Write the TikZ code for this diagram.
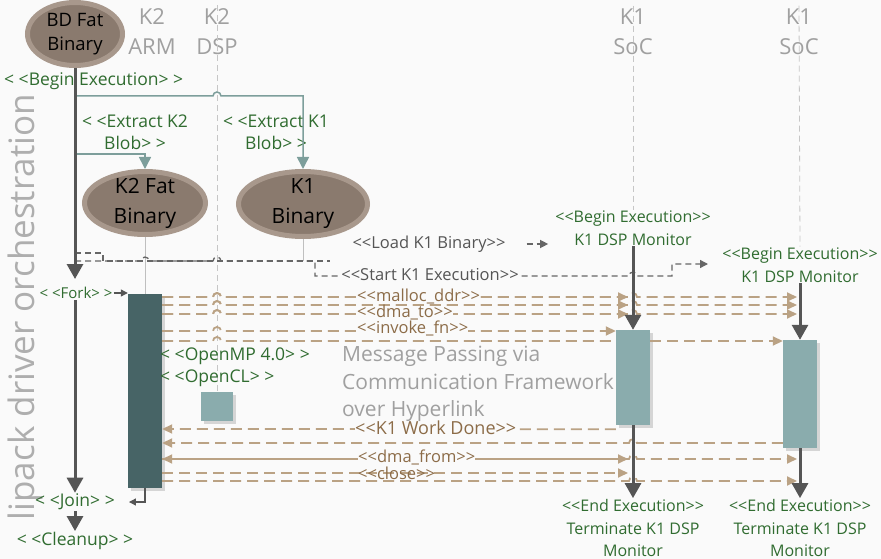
\documentclass[tikz,border=0pt]{standalone}
\usepackage{fontspec}
\setmainfont{Open Sans}
\usetikzlibrary{arrows.meta, positioning, shapes.geometric, shadows}

\definecolor{bgcol}{RGB}{250,250,250}
\definecolor{txtgreen}{RGB}{48,108,48}
\definecolor{txtbrown}{RGB}{140,108,72}
\definecolor{callcol}{RGB}{186,162,132}
\definecolor{flowcol}{RGB}{85,85,85}
\definecolor{hdrcol}{RGB}{160,160,160}
\definecolor{extcol}{RGB}{125,158,155}
\definecolor{armcol}{RGB}{71,100,102}
\definecolor{soccol}{RGB}{138,172,173}
\definecolor{blobrim}{RGB}{168,152,140}
\definecolor{blobcol}{RGB}{138,122,110}

% keep << and >> from turning into guillemets
\newcommand{\dlt}{<\kern0pt<}
\newcommand{\dgt}{>\kern0pt>}

\begin{document}
\begin{tikzpicture}[
    x=1pt, y=1pt,
    blob/.style={ellipse, draw=blobrim, line width=5pt, fill=blobcol, inner sep=-8pt, align=center, text=black},
    header/.style={align=center, text=hdrcol, font=\fontsize{22}{30}\selectfont},
    grn/.style={text=txtgreen, align=center, inner sep=1pt, font=\fontsize{17.5}{22}\selectfont},
    mon/.style={text=txtgreen, align=center, inner sep=1pt, font=\fontsize{16}{22.5}\selectfont},
    msg/.style={text=txtbrown, fill=bgcol, inner sep=0pt, text height=11pt, text depth=3pt, anchor=west, font=\fontsize{16.5}{18}\selectfont},
    cmd/.style={text=flowcol, fill=bgcol, inner sep=1pt, font=\fontsize{16.5}{20}\selectfont},
    actbox/.style={rectangle, draw=none, inner sep=0pt, drop shadow={opacity=0.3, shadow xshift=3pt, shadow yshift=-3pt}},
    lifeline/.style={draw=gray!45, dash pattern=on 6pt off 4pt, line width=0.8pt},
    thinline/.style={draw=gray!50, line width=0.8pt},
    flow/.style={draw=flowcol, line width=3pt, -{Triangle[width=16pt,length=15pt]}},
    smallflow/.style={draw=flowcol, line width=1.2pt, -{Triangle[width=7pt,length=7pt]}},
    extract/.style={draw=extcol, line width=1.5pt, -{Triangle[width=12pt,length=12pt]}},
    cmdline/.style={draw=flowcol!90, line width=1.3pt, dash pattern=on 6pt off 4pt},
    callx/.style={draw=callcol, line width=1.8pt, dash pattern=on 11pt off 6pt},
    call/.style={callx, -{Triangle[width=9pt,length=10pt]}},
    callboth/.style={callx, {Triangle[width=9pt,length=10pt]}-{Triangle[width=9pt,length=10pt]}}
]

% canvas
\fill[bgcol] (0,0) rectangle (881,-559);
\useasboundingbox (0,0) rectangle (881,-559);

\node[rotate=90, text=hdrcol!85, font=\fontsize{35}{40}\selectfont] (side) at (25,-307) {lipack driver orchestration};

% ============= HEADS =============
\node[blob, minimum width=95pt, minimum height=63pt, font=\fontsize{18.5}{24}\selectfont] (bd) at (75,-34) {BD Fat\\Binary};
\node[header] (k2arm) at (152,-32) {K2\\ARM};
\node[header] (k2dsp) at (217,-32) {K2\\DSP};
\node[header] (soc1) at (633,-32) {K1\\SoC};
\node[header] (soc2) at (799,-32) {K1\\SoC};

% ============= BLOBS =============
\node[grn, anchor=west] (begx) at (3,-81) {< <Begin Execution> >};
\node[grn] (ext2) at (135,-132) {< <Extract K2\\Blob> >};
\node[grn] (ext1) at (276,-132) {< <Extract K1\\Blob> >};

\node[blob, minimum width=121pt, minimum height=63pt, font=\fontsize{21}{30}\selectfont] (k2bin) at (145,-203) {K2 Fat\\Binary};
\node[blob, minimum width=129pt, minimum height=65pt, font=\fontsize{21}{30}\selectfont] (k1bin) at (303,-204) {K1\\Binary};

\coordinate (bx) at (bd.south |- 0,-96);
\coordinate (ex2) at (bd.south |- 0,-154);
\draw[extract] (bx) -- (213,-96) arc (180:0:4) -- (k1bin.north |- bx) -- (k1bin.north);
\draw[extract] (ex2) -| (k2bin.north);

% ============= ACTIVATIONS =============
\node[actbox, fill=armcol, minimum width=34pt, minimum height=194pt] (arm) at (145,-391) {};
\node[actbox, fill=soccol, minimum width=32pt, minimum height=29pt] (oclbox) at (217,-406.5) {};
\node[actbox, fill=soccol, minimum width=34pt, minimum height=95pt] (act1) at (633,-377.5) {};
\node[actbox, fill=soccol, minimum width=34pt, minimum height=108pt] (act2) at (800,-394) {};

\node[mon] (beginA) at (633,-228) {\dlt Begin Execution\dgt\\K1 DSP Monitor};
\node[mon] (beginB) at (800,-265) {\dlt Begin Execution\dgt\\K1 DSP Monitor};
\node[mon] (endA) at (633,-528) {\dlt End Execution\dgt\\Terminate K1 DSP\\Monitor};
\node[mon] (endB) at (800,-528) {\dlt End Execution\dgt\\Terminate K1 DSP\\Monitor};

% lifelines
\draw[lifeline] (k2dsp.north) -- (oclbox.north);
\draw[lifeline] (soc1.north) -- (beginA.north);
\draw[lifeline] (soc2.north) -- (beginB.north);
\draw[thinline] (k2bin.south) -- (arm.north);
\coordinate (ld) at (bd.south |- 0,-253);
\coordinate (st) at (bd.south |- 0,-261);
\draw[thinline] (k1bin.south) -- (k1bin.south |- st);

% load / start
\draw[cmdline] (ld) -- (103,-253) -- (103,-261) -- (330,-261);
\draw[cmdline, -{Triangle[width=8pt,length=8pt]}] (st) -- (141,-261) arc (180:0:4) -- (213,-261) arc (180:0:4) -- (315,-261) -- (315,-276)
    -- (629,-276) arc (180:0:4) -- (672,-276) -- (672,-264) -- (708,-264);
\node[cmd] (ldlbl) at (429,-244) {\dlt Load K1 Binary\dgt};
\draw[cmdline, -{Triangle[width=8pt,length=8pt]}] ([xshift=20pt]ldlbl.east) -- ([xshift=-6pt]beginA.west |- ldlbl.east);
\node[cmd] (stlbl) at (430,-275) {\dlt Start K1 Execution\dgt};

% ============= CALLS =============
\foreach \y in {297,305,314} {
  \draw[call, shorten >=5pt] (arm.east |- 0,-\y) -- (213,-\y) arc (180:0:4) -- (act1.north |- 0,-\y);
  \draw[call, shorten >=3pt] (arm.east |- 0,-\y) -- (213,-\y) arc (180:0:4) -- (629,-\y) arc (180:0:4) -- (act2.north |- 0,-\y);
}
\draw[call] (arm.east |- 0,-331) -- (213,-331) arc (180:0:4) -- (act1.west |- 0,-331);
\draw[callx] (arm.east |- 0,-341) -- (213,-341) arc (180:0:4) -- (act1.west |- 0,-341);
\draw[call] (act1.east |- 0,-341) -- (act2.west |- 0,-341);

\node[msg] (mal) at (357,-297) {\dlt malloc\_ddr\dgt};
\node[msg] (dto) at (357,-313) {\dlt dma\_to\dgt};
\node[msg] (inv) at (357,-329) {\dlt invoke\_fn\dgt};

% returns
\draw[call] ([yshift=-4pt]act1.south west) -- (arm.east |- 0,-429);
\draw[call] (act2.west |- 0,-443) -- (637,-443) arc (0:180:4) -- (arm.east |- 0,-443);
\draw[callboth, shorten >=5pt] (arm.east |- 0,-459) -- (act1.north |- 0,-459);
\draw[call, shorten >=3pt] (arm.east |- 0,-459) -- (629,-459) arc (180:0:4) -- (act2.north |- 0,-459);
\draw[call, shorten >=5pt] (arm.east |- 0,-473) -- (act1.north |- 0,-473);
\draw[call, shorten >=3pt] (arm.east |- 0,-481) -- (629,-481) arc (180:0:4) -- (act2.north |- 0,-481);

\node[msg, font=\fontsize{18}{20}\selectfont] (done) at (355,-430) {\dlt K1 Work Done\dgt};
\node[msg] (dfrom) at (358,-458) {\dlt dma\_from\dgt};
\node[msg, fill=none] (cls) at (358,-475) {\dlt close\dgt};

% notes
\node[grn, anchor=west] (omp) at (159,-356) {< <OpenMP 4.0> >};
\node[grn, anchor=west] (ocl) at (159,-378) {< <OpenCL> >};
\node[anchor=north west, align=left, inner sep=0pt, text=hdrcol, font=\fontsize{21}{27.5}\selectfont] (mp) at (342,-346) {Message Passing via\\Communication Framework\\over Hyperlink};

% ============= MAIN FLOW =============
\node[grn, font=\fontsize{15}{20}\selectfont] (fork) at (76,-293) {< <Fork> >};
\node[grn] (join) at (75,-502) {< <Join> >};
\node[grn] (cleanup) at (75,-541) {< <Cleanup> >};
\draw[flow, shorten >=7pt] (bd.south) -- (bd.south |- fork.north);
\draw[flow] (bd.south |- fork.south) -- (join.north -| bd.south);
\draw[flow] (join.south -| bd.south) -- (cleanup.north -| bd.south);
\draw[smallflow] (fork.east) -- (fork.east -| arm.west);
\draw[smallflow] (arm.south) |- ([xshift=13pt]join.east);

\draw[flow] (beginA.south) -- (act1.north);
\draw[flow] (beginB.south) -- (act2.north);
\draw[flow] (act1.south) -- (endA.north);
\draw[flow] (act2.south) -- (endB.north);

\end{tikzpicture}
\end{document}
